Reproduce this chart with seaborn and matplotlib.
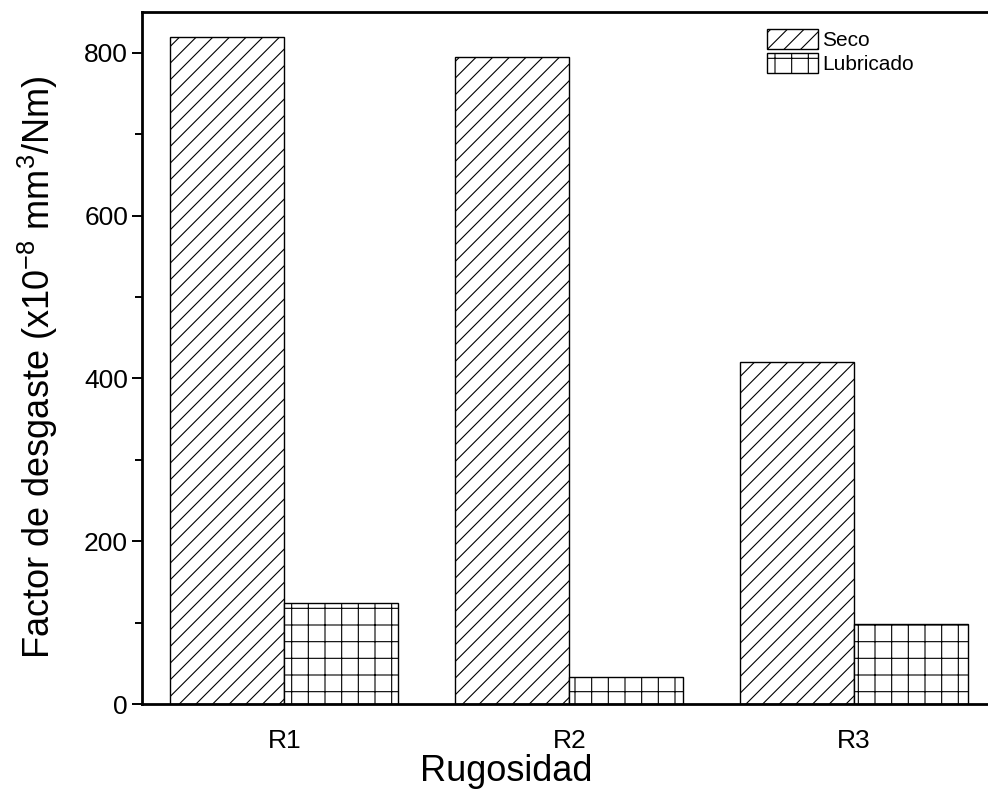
import matplotlib
matplotlib.use("Agg")
import matplotlib.pyplot as plt
from matplotlib.patches import Patch
from matplotlib.ticker import MultipleLocator
import seaborn as sns
import pandas as pd

rugosidad = ["R1", "R2", "R3"]
seco = [819, 795, 420]
lubricado = [124, 33, 98]
condiciones = ["Seco", "Lubricado"]
hatches = {"Seco": "//", "Lubricado": "+"}

df = pd.DataFrame({
    "Rugosidad": rugosidad * 2,
    "valor": seco + lubricado,
    "condicion": ["Seco"] * 3 + ["Lubricado"] * 3,
})

sns.set_style("ticks")
plt.rcParams["font.family"] = ["Liberation Sans", "DejaVu Sans"]
plt.rcParams["mathtext.fontset"] = "custom"
plt.rcParams["mathtext.rm"] = "Liberation Sans"
plt.rcParams["mathtext.it"] = "Liberation Sans:italic"
plt.rcParams["hatch.linewidth"] = 0.8
plt.rcParams["hatch.color"] = "black"
plt.rcParams["text.color"] = "black"
plt.rcParams["axes.labelcolor"] = "black"

fig = plt.figure(figsize=(9.88, 7.89), dpi=100)
ax = fig.add_axes([0.1437, 0.1077, 0.8563, 0.877])

sns.barplot(data=df, x="Rugosidad", y="valor", hue="condicion",
            hue_order=condiciones, order=rugosidad, width=0.8,
            palette=["white", "white"], edgecolor="black", linewidth=1.0,
            legend=False, ax=ax, errorbar=None)

# white fill + hatch per condition
for cont, cond in zip(ax.containers, condiciones):
    for bar in cont:
        bar.set_hatch(hatches[cond])
        bar.set_facecolor("white")
        bar.set_edgecolor("black")

ax.set_xlim(-0.5, 2.47)
ax.set_ylim(0, 850)
ax.yaxis.set_major_locator(MultipleLocator(200))
ax.yaxis.set_minor_locator(MultipleLocator(100))

for side in ["left", "top", "bottom"]:
    ax.spines[side].set_linewidth(2.0)
    ax.spines[side].set_color("black")
ax.spines["right"].set_visible(False)

ax.tick_params(axis="y", which="major", direction="out", length=7, width=1.4,
               labelsize=19, pad=3, colors="black")
ax.tick_params(axis="y", which="minor", direction="out", length=5, width=1.4,
               colors="black")
ax.tick_params(axis="x", length=0, labelsize=19, pad=18, colors="black")

ax.set_xlabel("Rugosidad", fontsize=26)
ax.set_ylabel("Factor de desgaste (x10$^{-8}$ mm$^3$/Nm)", fontsize=26)
ax.xaxis.set_label_coords(0.431, -0.072)
ax.yaxis.set_label_coords(-0.097, 0.487)

handles = [Patch(facecolor="white", edgecolor="black", hatch=hatches[c],
                 linewidth=1.0) for c in condiciones]
ax.legend(handles, condiciones, loc="upper left",
          bbox_to_anchor=(0.739, 0.975), frameon=False, fontsize=15,
          handlelength=2.45, handleheight=1.1, labelspacing=0.1,
          handletextpad=0.2, borderaxespad=0, borderpad=0)

fig.savefig("out.png", dpi=100)
